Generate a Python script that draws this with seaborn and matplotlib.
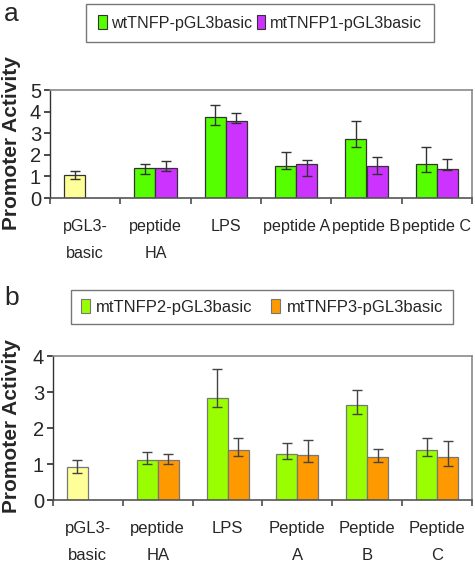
import matplotlib
matplotlib.use("Agg")
import matplotlib.pyplot as plt
import matplotlib.patches as mpatches
import numpy as np
import pandas as pd
import seaborn as sns

sns.set_theme(style="white")
plt.rcParams["font.family"] = ["Liberation Sans", "DejaVu Sans"]

# ---- data ----
cats_a = ["pGL3-\nbasic", "peptide\nHA", "LPS", "peptide A", "peptide B", "peptide C"]
cats_b = ["pGL3-\nbasic", "peptide\nHA", "LPS", "Peptide\nA", "Peptide\nB", "Peptide\nC"]

series_a = ["wtTNFP-pGL3basic", "mtTNFP1-pGL3basic"]
wt_val = [1.05, 1.41, 3.76, 1.50, 2.74, 1.59]
wt_hi = [1.25, 1.59, 4.32, 2.15, 3.58, 2.37]
wt_lo = [0.87, 1.13, 3.37, 1.32, 2.37, 1.22]
mt1_val = [np.nan, 1.41, 3.56, 1.59, 1.50, 1.32]
mt1_hi = [np.nan, 1.70, 3.95, 1.78, 1.89, 1.80]
mt1_lo = [np.nan, 1.24, 3.48, 1.04, 1.13, 1.30]

series_b = ["mtTNFP2-pGL3basic", "mtTNFP3-pGL3basic"]
mt2_val = [0.91, 1.10, 2.83, 1.28, 2.65, 1.39]
mt2_hi = [1.10, 1.34, 3.65, 1.59, 3.06, 1.72]
mt2_lo = [0.75, 1.00, 2.58, 1.14, 2.40, 1.23]
mt3_val = [np.nan, 1.10, 1.39, 1.24, 1.19, 1.19]
mt3_hi = [np.nan, 1.28, 1.72, 1.67, 1.43, 1.63]
mt3_lo = [np.nan, 1.00, 1.23, 1.05, 1.05, 0.95]

ctrl_color = "#FFFF99"


def make_df(cats, names, vals, his, los):
    rows = []
    for name, v, h, l in zip(names, vals, his, los):
        for c, vv, hh, ll in zip(cats, v, h, l):
            if not np.isnan(vv):
                rows.append({"cat": c, "series": name, "value": vv, "hi": hh, "lo": ll})
    return pd.DataFrame(rows)


def draw_panel(ax, df, cats, names, colors, edge, errc, ymax, xfs):
    sns.barplot(
        data=df, x="cat", y="value", hue="series", order=cats, hue_order=names,
        palette=colors, saturation=1, errorbar=None, width=0.6, gap=0,
        edgecolor=edge, linewidth=0.9, ax=ax, legend=False,
    )
    # control bar is drawn in yellow
    ax.containers[0][0].set_facecolor(ctrl_color)
    for name, cont in zip(names, ax.containers):
        sub = df[df["series"] == name].set_index("cat")
        for bar in cont:
            xc = bar.get_x() + bar.get_width() / 2
            c = cats[int(round(xc))]
            if c not in sub.index:
                continue
            r = sub.loc[c]
            ax.errorbar(xc, r["value"], yerr=[[r["value"] - r["lo"]], [r["hi"] - r["value"]]],
                        fmt="none", ecolor=errc, elinewidth=1, capsize=3.8, capthick=1)
    ax.set_xlim(-0.5, 5.5)
    ax.set_ylim(0, ymax)
    ax.set_yticks(range(ymax + 1))
    ax.set_xticks(np.arange(-0.5, 6, 1))
    ax.set_xticklabels([])
    ax.set_xticks(range(6), minor=True)
    ax.set_xticklabels(cats, minor=True, fontsize=xfs, linespacing=2.0)
    ax.tick_params(axis="x", which="major", direction="out", length=4.5, color="#555555",
                   bottom=True)
    ax.tick_params(axis="x", which="minor", length=0, pad=15, bottom=True)
    ax.tick_params(axis="y", direction="out", length=4.5, color="#333333", left=True,
                   labelsize=14.5, pad=2)
    ax.set_xlabel("")
    ax.set_ylabel("")
    for s in ["top", "right"]:
        ax.spines[s].set_visible(True)
        ax.spines[s].set_color("#8a8a8a")
        ax.spines[s].set_linewidth(1.2)
    ax.spines["left"].set_color("#333333")
    ax.spines["bottom"].set_color("#555555")
    ax.spines["left"].set_linewidth(1)
    ax.spines["bottom"].set_linewidth(1.2)


fig = plt.figure(figsize=(4.75, 5.68), dpi=100)

# panel a
ax_a = fig.add_axes([50 / 475, 1 - 198 / 568, 422 / 475, 108 / 568])
df_a = make_df(cats_a, series_a, [wt_val, mt1_val], [wt_hi, mt1_hi], [wt_lo, mt1_lo])
cols_a = ["#55FF00", "#CC33FF"]
draw_panel(ax_a, df_a, cats_a, series_a, cols_a, "#333333", "#333333", 5, 11.6)

# panel b
ax_b = fig.add_axes([53 / 475, 1 - 500 / 568, 419 / 475, 144 / 568])
df_b = make_df(cats_b, series_b, [mt2_val, mt3_val], [mt2_hi, mt3_hi], [mt2_lo, mt3_lo])
cols_b = ["#99FF00", "#FF9900"]
draw_panel(ax_b, df_b, cats_b, series_b, cols_b, "#777777", "#444444", 4, 12)

# legends
h_a = [mpatches.Patch(facecolor=c, edgecolor="#333333", linewidth=0.8) for c in cols_a]
leg_a = fig.legend(h_a, series_a, loc="center", bbox_to_anchor=(260 / 475, 1 - 23 / 568),
                   ncol=2, fontsize=11.6, handlelength=0.55, handleheight=0.9,
                   handletextpad=0.3, columnspacing=0.25, borderpad=0.7,
                   fancybox=False, framealpha=1, edgecolor="#777777")
leg_a.get_frame().set_linewidth(1)
h_b = [mpatches.Patch(facecolor=c, edgecolor="#777777", linewidth=0.8) for c in cols_b]
leg_b = fig.legend(h_b, series_b, loc="center", bbox_to_anchor=(262 / 475, 1 - 307 / 568),
                   ncol=2, fontsize=12, handlelength=0.55, handleheight=0.9,
                   handletextpad=0.4, columnspacing=1.1, borderpad=0.55,
                   fancybox=False, framealpha=1, edgecolor="#777777")
leg_b.get_frame().set_linewidth(1)

# panel letters and y labels
fig.text(4 / 475, 1 - 14 / 568, "a", fontsize=19, va="center", ha="left")
fig.text(4 / 475, 1 - 298 / 568, "b", fontsize=19, va="center", ha="left")
fig.text(12 / 475, 1 - 143 / 568, "Promoter Activity", rotation=90, fontsize=15,
         fontweight="bold", va="center", ha="center")
fig.text(12 / 475, 1 - 426 / 568, "Promoter Activity", rotation=90, fontsize=15,
         fontweight="bold", va="center", ha="center")

fig.savefig("out.png", dpi=100)
